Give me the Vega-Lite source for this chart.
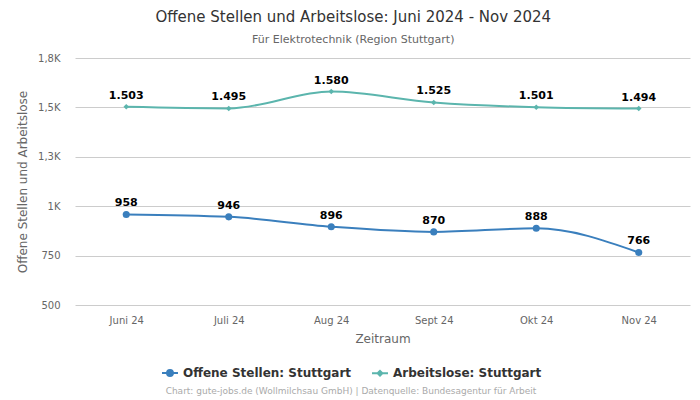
{
  "$schema": "https://vega.github.io/schema/vega-lite/v6.json",
  "width": 615,
  "height": 247,
  "autosize": {"type": "none"},
  "padding": {"left": 75, "top": 58, "right": 10, "bottom": 95},
  "background": "white",
  "config": {
    "font": "DejaVu Sans",
    "view": {"stroke": null},
    "locale": {"number": {"decimal": ",", "thousands": ".", "grouping": [3], "currency": ["", " €"]}}
  },
  "title": {
    "text": "Offene Stellen und Arbeitslose: Juni 2024 - Nov 2024",
    "subtitle": "Für Elektrotechnik (Region Stuttgart)",
    "anchor": "middle",
    "frame": "bounds",
    "fontSize": 15,
    "fontWeight": "normal",
    "color": "#333333",
    "subtitleFontSize": 11,
    "subtitleColor": "#666666",
    "subtitlePadding": 9,
    "offset": 8
  },
  "data": {
    "values": [
      {"Monat": "Juni 24", "Serie": "Offene Stellen: Stuttgart", "Wert": 958},
      {"Monat": "Juli 24", "Serie": "Offene Stellen: Stuttgart", "Wert": 946},
      {"Monat": "Aug 24", "Serie": "Offene Stellen: Stuttgart", "Wert": 896},
      {"Monat": "Sept 24", "Serie": "Offene Stellen: Stuttgart", "Wert": 870},
      {"Monat": "Okt 24", "Serie": "Offene Stellen: Stuttgart", "Wert": 888},
      {"Monat": "Nov 24", "Serie": "Offene Stellen: Stuttgart", "Wert": 766},
      {"Monat": "Juni 24", "Serie": "Arbeitslose: Stuttgart", "Wert": 1503},
      {"Monat": "Juli 24", "Serie": "Arbeitslose: Stuttgart", "Wert": 1495},
      {"Monat": "Aug 24", "Serie": "Arbeitslose: Stuttgart", "Wert": 1580},
      {"Monat": "Sept 24", "Serie": "Arbeitslose: Stuttgart", "Wert": 1525},
      {"Monat": "Okt 24", "Serie": "Arbeitslose: Stuttgart", "Wert": 1501},
      {"Monat": "Nov 24", "Serie": "Arbeitslose: Stuttgart", "Wert": 1494}
    ]
  },
  "encoding": {
    "x": {
      "field": "Monat",
      "type": "ordinal",
      "sort": ["Juni 24", "Juli 24", "Aug 24", "Sept 24", "Okt 24", "Nov 24"],
      "scale": {"type": "point", "padding": 0.5},
      "axis": {
        "title": "Zeitraum",
        "labelAngle": 0,
        "labelFontSize": 10,
        "labelColor": "#666666",
        "labelPadding": 10,
        "titleFontSize": 12,
        "titleFontWeight": "normal",
        "titleColor": "#666666",
        "titlePadding": 8,
        "domain": false,
        "ticks": false,
        "grid": false
      }
    },
    "y": {
      "field": "Wert",
      "type": "quantitative",
      "scale": {"domain": [500, 1750], "nice": false, "zero": false},
      "axis": {
        "title": "Offene Stellen und Arbeitslose",
        "values": [500, 750, 1000, 1250, 1500, 1750],
        "labelExpr": "datum.value >= 1000 ? replace(format(datum.value / 1000, '.1~f'), '.', ',') + 'K' : format(datum.value, 'd')",
        "labelFontSize": 10,
        "labelColor": "#666666",
        "labelPadding": 15,
        "titleFontSize": 12,
        "titleFontWeight": "normal",
        "titleColor": "#666666",
        "titlePadding": 8,
        "domain": false,
        "ticks": false,
        "gridColor": "#cccccc",
        "gridWidth": 1
      }
    },
    "color": {
      "field": "Serie",
      "type": "nominal",
      "scale": {
        "domain": ["Offene Stellen: Stuttgart", "Arbeitslose: Stuttgart"],
        "range": ["#3a7fbd", "#5bb5ad"]
      },
      "legend": null
    }
  },
  "layer": [
    {
      "mark": {"type": "line", "interpolate": "monotone", "strokeWidth": 2},
      "encoding": {
        "color": {
          "field": "Serie",
          "type": "nominal",
          "scale": {
            "domain": ["Offene Stellen: Stuttgart", "Arbeitslose: Stuttgart"],
            "range": ["#3a7fbd", "#5bb5ad"]
          },
          "legend": {
            "title": "Chart: gute-jobs.de (Wollmilchsau GmbH) | Datenquelle: Bundesagentur für Arbeit",
            "titleOrient": "bottom",
            "titleAnchor": "middle",
            "titleFontSize": 9,
            "titleFontWeight": "normal",
            "titleColor": "#aaaaaa",
            "titlePadding": 7,
            "titleLimit": 600,
            "orient": "none",
            "legendX": 86,
            "legendY": 306,
            "direction": "horizontal",
            "columns": 2,
            "columnPadding": 16,
            "labelFontSize": 12,
            "labelFontWeight": "bold",
            "labelColor": "#333333",
            "labelLimit": 300,
            "symbolSize": 256,
            "symbolStrokeWidth": 2,
            "symbolOpacity": 1,
            "encode": {
              "symbols": {
                "update": {
                  "shape": {"signal": "datum.value == 'Offene Stellen: Stuttgart' ? 'M-1,0L1,0M-0.37,0A0.37,0.37 0 1,0 0.37,0A0.37,0.37 0 1,0 -0.37,0Z' : 'M-1,0L1,0M0,-0.3L0.3,0L0,0.3L-0.3,0Z'"},
                  "fill": {"scale": "color", "field": "value"},
                  "stroke": {"scale": "color", "field": "value"},
                  "strokeWidth": {"value": 2},
                  "strokeOpacity": {"value": 1},
                  "opacity": {"value": 1}
                }
              }
            }
          }
        }
      }
    },
    {
      "transform": [{"filter": "datum.Serie == 'Offene Stellen: Stuttgart'"}],
      "mark": {"type": "point", "filled": true, "opacity": 1, "shape": "circle", "size": 50}
    },
    {
      "transform": [{"filter": "datum.Serie == 'Arbeitslose: Stuttgart'"}],
      "mark": {"type": "point", "filled": true, "opacity": 1, "shape": "diamond", "size": 30}
    },
    {
      "mark": {"type": "text", "baseline": "bottom", "dy": -6, "fontSize": 11, "fontWeight": "bold", "color": "#000000"},
      "encoding": {
        "text": {"field": "Wert", "type": "quantitative", "format": ",d"},
        "color": {"value": "#000000"}
      }
    }
  ]
}
